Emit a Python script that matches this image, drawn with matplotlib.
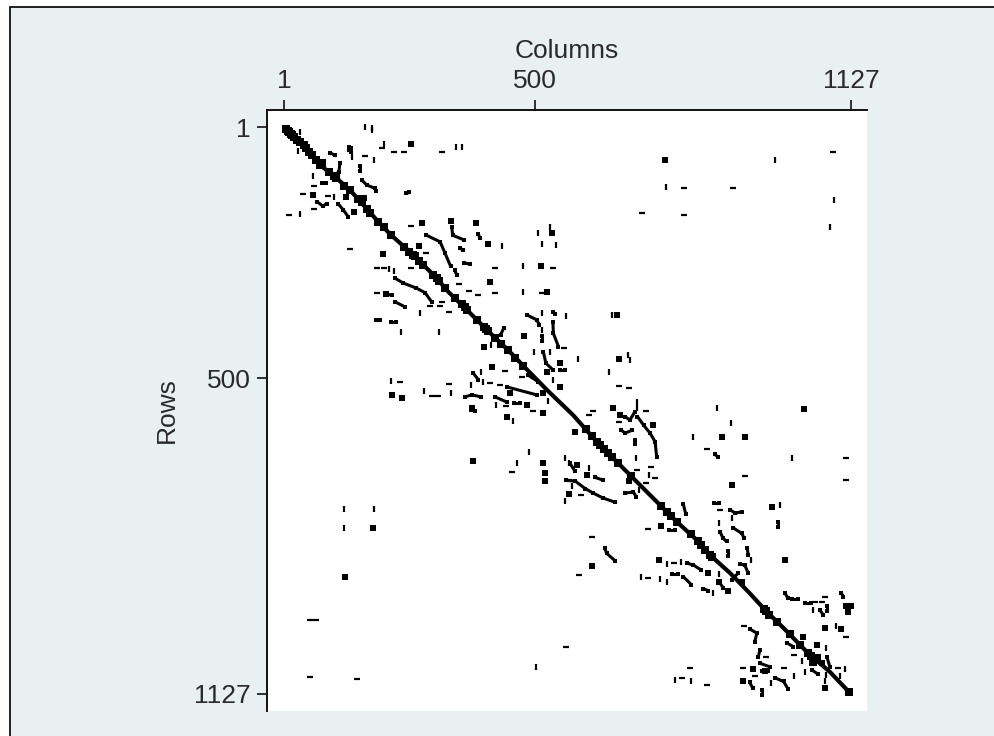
import matplotlib
matplotlib.use("Agg")
import matplotlib.pyplot as plt
from matplotlib.patches import Rectangle

plt.rcParams['font.family'] = ['Liberation Sans', 'DejaVu Sans']

tick_values = [1, 500, 1127]

# (column, row) of the nonzero entries
diagonal = [(1, 1), (40, 37), (72, 76), (100, 98), (132, 126), (147, 143), (165, 163), (188, 189),
            (213, 215), (258, 255), (304, 301), (327, 328), (364, 364), (403, 403), (446, 444),
            (476, 475), (523, 523), (575, 573), (622, 626), (681, 685), (708, 712), (761, 765),
            (781, 785), (824, 824), (847, 851), (887, 887), (926, 927), (959, 963), (993, 996),
            (1042, 1046), (1085, 1083), (1124, 1124)]

diagonal_blobs = [(5, 4), (8, 9), (10, 10), (14, 15), (17, 16), (20, 20), (26, 27), (32, 30), (40, 37), (45, 42),
                  (50, 51), (56, 57), (64, 67), (72, 76), (76, 73), (90, 90), (100, 98), (104, 103),
                  (120, 118), (132, 126), (147, 143), (155, 150), (165, 163), (172, 172), (188, 189),
                  (200, 200), (213, 215), (240, 240), (250, 250), (258, 255), (262, 258), (270, 268),
                  (278, 276), (296, 294), (304, 301), (308, 306), (320, 320), (340, 340), (354, 352),
                  (360, 358), (364, 364), (385, 385), (398, 398), (403, 403), (407, 406), (420, 420),
                  (432, 432), (446, 444), (460, 460), (476, 475), (600, 600), (612, 614), (622, 626),
                  (628, 632), (636, 640), (645, 648), (652, 656), (665, 668), (690, 694), (750, 754),
                  (761, 765), (770, 773), (781, 785), (810, 810), (824, 824), (830, 832), (838, 842),
                  (847, 851), (851, 854), (955, 958), (959, 963), (965, 970), (980, 984), (1005, 1008),
                  (1025, 1030), (1042, 1046), (1047, 1052), (1052, 1063), (1060, 1056), (1124, 1124)]

streaks = [
    [(92, 52), (102, 57)], [(131, 40), (135, 50)], [(112, 73), (110, 90), (100, 97)],
    [(152, 78), (152, 88)], [(155, 106), (165, 116), (182, 123), (183, 129)],
    [(243, 133), (250, 131)], [(76, 112), (85, 112)], [(66, 149), (78, 158), (86, 153)],
    [(109, 154), (119, 166), (129, 180)], [(334, 199), (336, 216), (358, 225)],
    [(387, 214), (390, 221)], [(350, 242), (357, 245)],
    [(282, 215), (311, 229), (321, 252), (332, 278)], [(340, 285), (344, 295)],
    [(358, 271), (370, 273)], [(204, 333), (215, 335)],
    [(221, 301), (238, 311), (264, 321), (281, 330), (294, 348)], [(221, 348), (241, 358)],
    [(183, 384), (192, 384)], [(213, 388), (223, 388)], [(483, 374), (503, 384), (508, 394)],
    [(536, 368), (539, 372)], [(535, 388), (536, 411), (546, 437)], [(513, 416), (513, 425)],
    [(437, 401), (431, 414)], [(516, 447), (521, 470), (536, 484)], [(549, 484), (559, 484)],
    [(486, 494), (506, 507)], [(377, 490), (387, 503)], [(360, 537), (374, 533), (393, 537)],
    [(420, 537), (443, 547)], [(458, 550), (470, 550)], [(443, 517), (503, 533)],
    [(372, 563), (381, 565)], [(678, 576), (688, 583), (698, 566)],
    [(703, 576), (715, 593), (728, 609), (738, 626), (741, 656)], [(671, 603), (678, 609), (693, 603)],
    [(698, 622), (698, 630)], [(857, 651), (863, 657)], [(569, 669), (579, 685)],
    [(619, 697), (634, 702)], [(562, 703), (579, 704), (599, 719), (615, 728), (635, 738), (658, 746)],
    [(678, 728), (695, 726), (700, 735)], [(855, 747), (865, 747)],
    [(887, 761), (897, 768), (910, 765)], [(794, 750), (799, 770)], [(765, 801), (777, 801)],
    [(867, 805), (873, 818), (880, 824)], [(983, 785), (983, 795)],
    [(893, 797), (910, 808), (915, 818)], [(638, 838), (642, 848), (658, 862)],
    [(883, 843), (883, 853)], [(921, 838), (923, 851)], [(801, 867), (814, 871), (830, 881)],
    [(906, 869), (916, 871), (923, 887)], [(903, 887), (890, 900)], [(771, 889), (783, 889)],
    [(794, 894), (810, 910)], [(834, 918), (844, 922)], [(865, 904), (873, 916)],
    [(996, 927), (1002, 937)], [(1010, 939), (1022, 939)], [(1036, 947), (1048, 947)],
    [(1108, 927), (1112, 934)], [(1065, 960), (1072, 970)], [(1079, 953), (1079, 963)],
    [(926, 998), (940, 1006), (936, 1023)], [(999, 1025), (1012, 1033)],
    [(1079, 1053), (1085, 1073)], [(946, 1040), (943, 1053)], [(946, 1066), (966, 1073)],
    [(950, 1081), (962, 1081)], [(976, 1095), (993, 1102), (1002, 1117)],
    [(1049, 1079), (1062, 1088)], [(926, 1104), (932, 1116)], [(950, 1120), (950, 1130)],
]

dash_marks = [(195, 42), (219, 51), (240, 51), (315, 51), (161, 59), (61, 118), (39, 135), (89, 138),
              (61, 163), (10, 176), (132, 243), (253, 198), (282, 252), (253, 281), (420, 281),
              (536, 281), (186, 281), (200, 281), (349, 313), (369, 327), (386, 335), (420, 331),
              (513, 331), (186, 331), (291, 356), (311, 356), (314, 348), (328, 368), (557, 439),
              (440, 485), (473, 497), (411, 510), (429, 513), (231, 507), (328, 511), (294, 536),
              (307, 536), (441, 556), (495, 565), (453, 687), (566, 703), (53, 980), (65, 980),
              (53, 1093), (145, 1097), (562, 1034), (1092, 51), (795, 122), (892, 122), (712, 172),
              (795, 176), (666, 515), (687, 519), (615, 564), (607, 573), (720, 564), (667, 586),
              (842, 640), (1117, 658), (703, 682), (729, 677), (738, 699), (916, 695), (1117, 703),
              (591, 732), (720, 707), (867, 761), (724, 799), (612, 816), (587, 891), (775, 866),
              (724, 896), (1075, 934), (1056, 944), (1069, 944), (914, 991), (1117, 1013),
              (1014, 1049), (958, 1054), (994, 1076), (913, 1076), (808, 1076), (792, 1096),
              (842, 1109), (936, 1091), (1102, 1076)]

tick_marks = [(162, 1), (176, 2), (176, 7), (33, 10), (29, 48), (58, 98), (200, 35), (342, 41), (354, 41),
              (137, 61), (180, 66), (100, 139), (33, 174), (434, 237), (530, 199), (505, 212),
              (513, 233), (542, 235), (476, 278), (210, 282), (219, 286), (476, 329), (271, 371),
              (234, 409), (309, 409), (513, 371), (562, 376), (513, 404), (413, 433), (497, 448),
              (529, 448), (392, 488), (397, 508), (372, 513), (213, 505), (279, 525), (332, 529),
              (536, 503), (422, 554), (526, 546), (455, 584), (488, 647), (463, 668), (559, 743),
              (559, 659), (567, 668), (121, 760), (180, 760), (121, 798), (501, 1074), (977, 66),
              (760, 120), (1094, 145), (1086, 199), (652, 375), (584, 462), (685, 454), (689, 463),
              (647, 488), (702, 547), (702, 560), (860, 560), (889, 588), (814, 616), (1010, 659),
              (701, 659), (607, 679), (726, 692), (572, 714), (706, 722), (986, 752), (890, 777),
              (864, 788), (928, 861), (761, 869), (789, 864), (709, 894), (748, 898), (762, 904),
              (852, 927), (864, 889), (1052, 960), (1098, 991), (1077, 1036), (777, 1099),
              (810, 1102), (968, 1106), (1014, 1091), (1036, 1083), (1077, 1089), (1075, 1102),
              (1115, 1078), (1106, 1091), (1029, 1061)]

dot_marks = [(253, 35), (132, 45), (58, 137), (124, 139), (160, 141), (140, 170), (198, 254), (276, 192),
             (332, 187), (382, 191), (407, 233), (533, 212), (270, 237), (511, 278), (411, 308),
             (524, 329), (204, 333), (398, 437), (478, 416), (415, 477), (549, 470), (516, 530),
             (549, 517), (523, 487), (215, 533), (235, 540), (450, 530), (483, 553), (374, 560),
             (444, 576), (516, 568), (377, 664), (515, 668), (519, 689), (519, 705), (566, 730),
             (177, 798), (123, 894), (758, 66), (662, 375), (666, 462), (655, 560), (1034, 561),
             (668, 573), (733, 593), (871, 616), (916, 617), (579, 606), (582, 672), (603, 693),
             (687, 705), (566, 730), (891, 711), (971, 756), (750, 793), (613, 873), (745, 861),
             (844, 886), (864, 904), (883, 922), (910, 904), (1122, 965), (1118, 952), (1128, 952),
             (1075, 995), (1108, 998), (1059, 1030), (1032, 1013), (933, 1078), (956, 1081),
             (913, 1102), (1075, 1116), (996, 860), (1069, 1066)]

fig = plt.figure(figsize=(9.95, 7.36), dpi=100, facecolor='white')
fig.patches.append(Rectangle((10 / 995, -0.02), 1.02, 1.02 - 7 / 736, transform=fig.transFigure,
                             facecolor='#e8f0f2', edgecolor='#111111', linewidth=1.3, zorder=-1))

ax = fig.add_axes([267 / 995, 1 - 711 / 736, 600 / 995, 601 / 736])
ax.set_facecolor('white')

ax.plot(*zip(*diagonal), color='black', lw=3.0, solid_capstyle='round')
for s in streaks:
    ax.plot(*zip(*s), color='black', lw=2.2, solid_capstyle='butt', marker='s', ms=2.8, mew=0)
ax.plot(*zip(*diagonal_blobs), ls='none', marker='s', ms=5.2, color='black', mew=0)
ax.plot(*zip(*dash_marks), ls='none', marker='_', ms=3.8, mew=1.6, color='black')
ax.plot(*zip(*tick_marks), ls='none', marker='|', ms=3.8, mew=1.6, color='black')
ax.plot(*zip(*dot_marks), ls='none', marker='s', ms=4.0, color='black', mew=0)

ax.set_xlim(-32.8, 1158.8)
ax.set_ylim(1160.8, -32.8)
ax.set_xticks(tick_values)
ax.set_yticks(tick_values)
ax.xaxis.tick_top()
ax.tick_params(length=7, width=1.2, color='#111111', labelsize=19, labelcolor='#2a2a2a', pad=5)
ax.tick_params(axis='x', pad=5.5)
ax.spines['right'].set_visible(False)
ax.spines['bottom'].set_visible(False)
for side in ['left', 'top']:
    ax.spines[side].set_linewidth(1.4)
    ax.spines[side].set_color('#111111')

ax.xaxis.set_label_position('top')
ax.set_xlabel('Columns', fontsize=19, color='#2a2a2a', va='center')
ax.set_ylabel('Rows', fontsize=19, color='#2a2a2a', va='center')
ax.xaxis.set_label_coords(0.5, 1.098)
ax.yaxis.set_label_coords(-0.1667, 0.5)

fig.savefig('out.png', dpi=100, facecolor=fig.get_facecolor())
